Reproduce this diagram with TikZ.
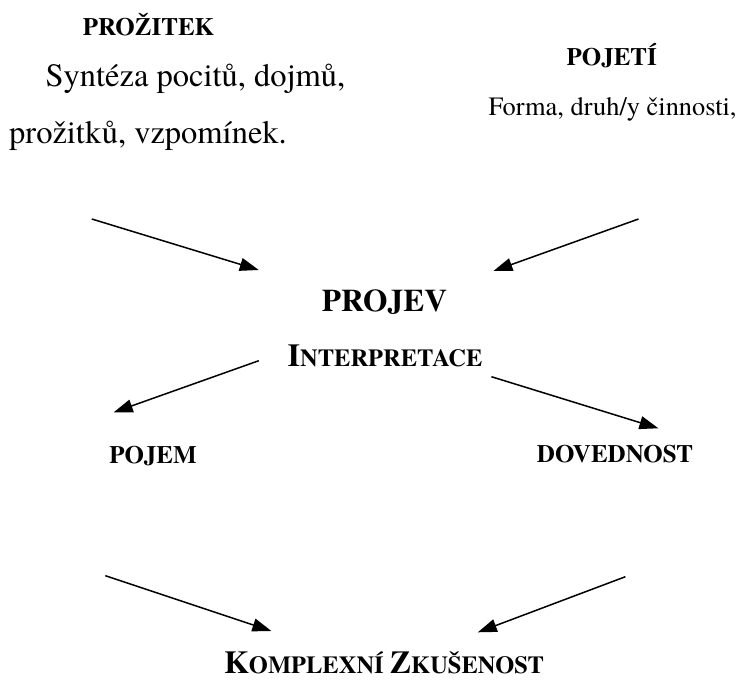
\documentclass[tikz,border=0pt]{standalone}
\usepackage{fontspec}
\setmainfont{texgyretermes}[Extension=.otf,UprightFont=*-regular,BoldFont=*-bold,ItalicFont=*-italic,BoldItalicFont=*-bolditalic]
\usetikzlibrary{arrows.meta}
\newcommand{\fs}[1]{\fontsize{#1}{#1}\selectfont}
\begin{document}
\begin{tikzpicture}[x=1pt,y=-1pt,
  lbl/.style={inner sep=0pt,anchor=base},
  head/.style={lbl,font=\fs{25}\bfseries},
  conn/.style={line width=1.5pt,-{Triangle[length=19pt,width=13pt]}}]
\useasboundingbox (0,0) rectangle (741,680);
\node[head] (prozitek) at (148.5,35) {PROŽITEK};
\node[lbl,font=\fs{32.5}] (synt1) at (195.5,86.7) {Syntéza pocitů, dojmů,};
\node[lbl,font=\fs{32.5}] (synt2) at (148,143.3) {prožitků, vzpomínek.};
\node[head] (pojeti) at (611.7,65) {POJETÍ};
\node[lbl,font=\fs{26.4}] (forma) at (612.5,115) {Forma, druh/y činnosti,};
\node[lbl,font=\fs{31.5}\bfseries] (projev) at (384.5,311) {PROJEV};
\node[lbl,font=\bfseries] (interp) at (385,366.3) {{\fs{32}I}{\fs{24.5}NTERPRETACE}};
\node[head] (pojem) at (153,463) {POJEM};
\node[head] (doved) at (615,462) {DOVEDNOST};
\node[lbl,font=\bfseries] (kompl) at (384,673) {{\fs{32}K}{\fs{24.5}OMPLEXNÍ }{\fs{32}Z}{\fs{24.5}KUŠENOST}};
\coordinate (a1s) at (91.8,219);    \coordinate (a1e) at (258.8,270);
\coordinate (a2s) at (638.5,219);   \coordinate (a2e) at (493.4,271);
\coordinate (a3s) at (258.8,360.7); \coordinate (a3e) at (113.7,412.3);
\coordinate (a4s) at (491.4,376.7); \coordinate (a4e) at (658.4,428.3);
\coordinate (a5s) at (105.3,575.7); \coordinate (a5e) at (271.4,631);
\coordinate (a6s) at (625.4,576.7); \coordinate (a6e) at (477.8,632.3);
\draw[conn] (a1s) -- (a1e);
\draw[conn] (a2s) -- (a2e);
\draw[conn] (a3s) -- (a3e);
\draw[conn] (a4s) -- (a4e);
\draw[conn] (a5s) -- (a5e);
\draw[conn] (a6s) -- (a6e);
\end{tikzpicture}
\end{document}
